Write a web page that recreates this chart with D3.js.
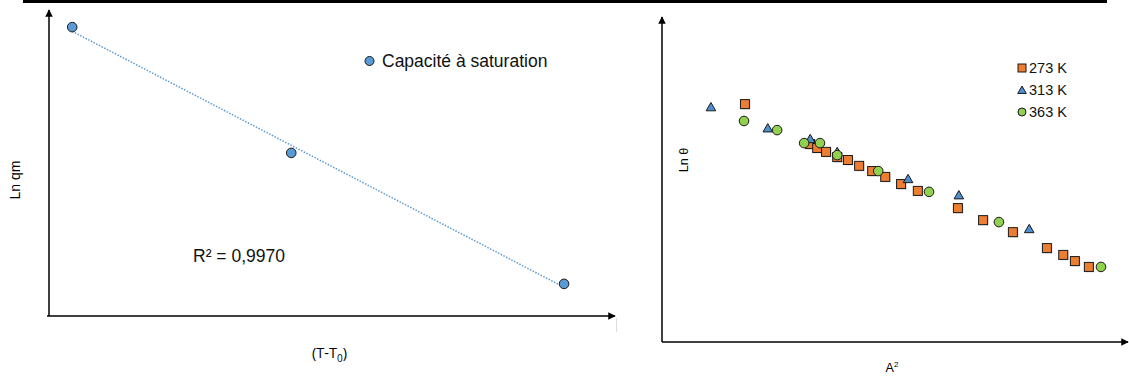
<!DOCTYPE html>
<html>
<head>
<meta charset="utf-8">
<script src="https://cdn.jsdelivr.net/npm/d3@7"></script>
<style>
	body { margin: 0; background: #fff; }
	svg { display: block; font-family: 'Liberation Sans', Arial, sans-serif; }
</style>
</head>
<body>
<div id="chart"></div>
<script>
// Left chart: Ln qm vs (T-T0), arbitrary units 0-100
const satX = [ 4.1, 42.8, 91.0 ];
const satY = [ 94.4, 53.3, 10.5 ];
const satLabel = 'Capacité à saturation';
const r2Label = 'R² = 0,9970';

// Right chart: Ln θ vs A², arbitrary units 0-100
const k273X = [ 17.8, 31.8, 33.3, 35.2, 37.6, 39.9, 42.3, 45.1, 47.9, 51.3, 54.9, 63.5, 68.9, 75.3, 82.6, 86.1, 88.6, 91.6 ];
const k273Y = [ 73.2, 60.9, 59.7, 58.5, 56.9, 56.0, 54.2, 52.6, 50.8, 48.6, 46.5, 41.2, 37.5, 33.8, 28.9, 26.8, 24.9, 23.1 ];
const k313X = [ 10.5, 22.7, 31.8, 37.6, 52.8, 63.7, 78.8 ];
const k313Y = [ 72.3, 65.8, 62.5, 58.5, 50.2, 45.2, 34.8 ];
const k363X = [ 17.6, 24.7, 30.5, 33.9, 37.6, 46.4, 57.3, 72.3, 94.2 ];
const k363Y = [ 68.0, 65.2, 61.2, 61.2, 57.5, 52.6, 46.2, 36.9, 23.1 ];
const seriesNames = [ '273 K', '313 K', '363 K' ];

const width = 1129;
const height = 377;

const svg = d3.select( '#chart' )
	.append( 'svg' )
	.attr( 'width', width )
	.attr( 'height', height );

const defs = svg.append( 'defs' );
defs.append( 'marker' )
	.attr( 'id', 'arrow' )
	.attr( 'viewBox', '0 0 10 10' )
	.attr( 'refX', 9 )
	.attr( 'refY', 5 )
	.attr( 'markerWidth', 5 )
	.attr( 'markerHeight', 5 )
	.attr( 'orient', 'auto' )
	.append( 'path' )
	.attr( 'd', 'M0,0 L10,5 L0,10 z' )
	.attr( 'fill', '#000' );

// heavy rule along the top edge
svg.append( 'line' )
	.attr( 'x1', 23 ).attr( 'x2', 1107 )
	.attr( 'y1', 1.5 ).attr( 'y2', 1.5 )
	.attr( 'stroke', '#000' )
	.attr( 'stroke-width', 3 );

/* ---------- left chart ---------- */
const xL = d3.scaleLinear().domain( [ 0, 100 ] ).range( [ 49, 615 ] );
const yL = d3.scaleLinear().domain( [ 0, 100 ] ).range( [ 316, 10 ] );

const left = svg.append( 'g' );

left.append( 'line' )
	.attr( 'x1', xL( 0 ) - 2 ).attr( 'x2', xL( 100 ) )
	.attr( 'y1', yL( 0 ) ).attr( 'y2', yL( 0 ) )
	.attr( 'stroke', '#000' ).attr( 'stroke-width', 1.5 )
	.attr( 'marker-end', 'url(#arrow)' );

left.append( 'line' )
	.attr( 'x1', xL( 0 ) ).attr( 'x2', xL( 0 ) )
	.attr( 'y1', yL( 0 ) ).attr( 'y2', yL( 100 ) )
	.attr( 'stroke', '#000' ).attr( 'stroke-width', 1.5 )
	.attr( 'marker-end', 'url(#arrow)' );

// least-squares trend line over the three points
const mx = d3.mean( satX );
const my = d3.mean( satY );
const slope = d3.sum( satX, ( x, i ) => ( x - mx ) * ( satY[ i ] - my ) ) /
	d3.sum( satX, ( x ) => ( x - mx ) * ( x - mx ) );
const fit = ( x ) => my + slope * ( x - mx );
const xExt = d3.extent( satX );

left.append( 'line' )
	.attr( 'x1', xL( xExt[ 0 ] ) ).attr( 'y1', yL( fit( xExt[ 0 ] ) ) )
	.attr( 'x2', xL( xExt[ 1 ] ) ).attr( 'y2', yL( fit( xExt[ 1 ] ) ) )
	.attr( 'stroke', '#5b9bd5' )
	.attr( 'stroke-width', 1.5 )
	.attr( 'stroke-dasharray', '1.5 1.5' );

left.selectAll( 'circle.pt' )
	.data( satX.map( ( x, i ) => ( { x, y: satY[ i ] } ) ) )
	.enter()
	.append( 'circle' )
	.attr( 'class', 'pt' )
	.attr( 'cx', ( d ) => xL( d.x ) )
	.attr( 'cy', ( d ) => yL( d.y ) )
	.attr( 'r', 4.8 )
	.attr( 'fill', '#5b9bd5' )
	.attr( 'stroke', '#1a1a1a' )
	.attr( 'stroke-width', 1 );

left.append( 'circle' )
	.attr( 'cx', 369.5 ).attr( 'cy', 61 )
	.attr( 'r', 4.5 )
	.attr( 'fill', '#5b9bd5' )
	.attr( 'stroke', '#1a1a1a' )
	.attr( 'stroke-width', 1 );

left.append( 'text' )
	.attr( 'x', 382 ).attr( 'y', 67 )
	.style( 'font-size', '17.5px' )
	.attr( 'fill', '#111' )
	.text( satLabel );

left.append( 'text' )
	.attr( 'x', 193 ).attr( 'y', 262 )
	.style( 'font-size', '17.5px' )
	.attr( 'fill', '#111' )
	.text( r2Label );

left.append( 'text' )
	.attr( 'transform', 'translate(20,180) rotate(-90)' )
	.attr( 'text-anchor', 'middle' )
	.style( 'font-size', '14px' )
	.text( 'Ln qm' );

const xLab = left.append( 'text' )
	.attr( 'x', 312 ).attr( 'y', 358 )
	.style( 'font-family', "'Open Sans', sans-serif" )
	.style( 'font-size', '14.5px' );
xLab.append( 'tspan' ).text( '(T-T' );
xLab.append( 'tspan' ).attr( 'dy', 4 ).style( 'font-size', '10px' ).text( '0' );
xLab.append( 'tspan' ).attr( 'dy', -4 ).text( ')' );

left.append( 'line' )
	.attr( 'x1', 616.5 ).attr( 'x2', 616.5 )
	.attr( 'y1', 318 ).attr( 'y2', 332 )
	.attr( 'stroke', '#ddd' );

/* ---------- right chart ---------- */
const xR = d3.scaleLinear().domain( [ 0, 100 ] ).range( [ 662, 1128 ] );
const yR = d3.scaleLinear().domain( [ 0, 100 ] ).range( [ 342, 17 ] );

const right = svg.append( 'g' );

right.append( 'line' )
	.attr( 'x1', xR( 0 ) ).attr( 'x2', xR( 100 ) )
	.attr( 'y1', yR( 0 ) ).attr( 'y2', yR( 0 ) )
	.attr( 'stroke', '#000' ).attr( 'stroke-width', 1.5 )
	.attr( 'marker-end', 'url(#arrow)' );

right.append( 'line' )
	.attr( 'x1', xR( 0 ) ).attr( 'x2', xR( 0 ) )
	.attr( 'y1', yR( 0 ) ).attr( 'y2', yR( 100 ) )
	.attr( 'stroke', '#000' ).attr( 'stroke-width', 1.5 )
	.attr( 'marker-end', 'url(#arrow)' );

const sq = 9;
const drawSquare = ( g, x, y ) => {
	g.append( 'rect' )
		.attr( 'x', x - sq / 2 + 1 ).attr( 'y', y - sq / 2 + 1 )
		.attr( 'width', sq ).attr( 'height', sq )
		.attr( 'fill', '#bbb' ).attr( 'opacity', 0.6 );
	g.append( 'rect' )
		.attr( 'x', x - sq / 2 ).attr( 'y', y - sq / 2 )
		.attr( 'width', sq ).attr( 'height', sq )
		.attr( 'fill', '#ed7d31' )
		.attr( 'stroke', '#1a1a1a' ).attr( 'stroke-width', 1 );
};
const triPath = d3.symbol().type( d3.symbolTriangle ).size( 40 );
const drawTri = ( g, x, y ) => {
	g.append( 'path' )
		.attr( 'd', triPath() )
		.attr( 'transform', `translate(${ x },${ y + 1 })` )
		.attr( 'fill', '#4f8fd0' )
		.attr( 'stroke', '#1a1a1a' ).attr( 'stroke-width', 1 );
};
const drawDot = ( g, x, y ) => {
	g.append( 'circle' )
		.attr( 'cx', x ).attr( 'cy', y )
		.attr( 'r', 4.8 )
		.attr( 'fill', '#92d050' )
		.attr( 'stroke', '#1a1a1a' ).attr( 'stroke-width', 1 );
};

const marks = right.append( 'g' );
k273X.forEach( ( x, i ) => drawSquare( marks, xR( x ), yR( k273Y[ i ] ) ) );
k313X.forEach( ( x, i ) => drawTri( marks, xR( x ), yR( k313Y[ i ] ) ) );
k363X.forEach( ( x, i ) => drawDot( marks, xR( x ), yR( k363Y[ i ] ) ) );

// legend
const legend = right.append( 'g' ).attr( 'transform', 'translate(1022,68)' );
const legendDraw = [
	( g ) => {
		g.append( 'rect' ).attr( 'x', -4 ).attr( 'y', -4 ).attr( 'width', 8 ).attr( 'height', 8 )
			.attr( 'fill', '#ed7d31' ).attr( 'stroke', '#1a1a1a' );
	},
	( g ) => {
		g.append( 'path' ).attr( 'd', d3.symbol().type( d3.symbolTriangle ).size( 32 )() )
			.attr( 'transform', 'translate(0,1)' )
			.attr( 'fill', '#4f8fd0' ).attr( 'stroke', '#1a1a1a' );
	},
	( g ) => {
		g.append( 'circle' ).attr( 'r', 4 )
			.attr( 'fill', '#92d050' ).attr( 'stroke', '#1a1a1a' );
	},
];
seriesNames.forEach( ( name, i ) => {
	const row = legend.append( 'g' ).attr( 'transform', `translate(0,${ i * 22 })` );
	legendDraw[ i ]( row );
	row.append( 'text' )
		.attr( 'x', 7 ).attr( 'y', 5 )
		.style( 'font-size', '14.5px' )
		.attr( 'fill', '#111' )
		.text( name );
} );

right.append( 'text' )
	.attr( 'transform', 'translate(688,160) rotate(-90)' )
	.attr( 'text-anchor', 'middle' )
	.style( 'font-size', '12.5px' )
	.text( 'Ln θ' );

const aLab = right.append( 'text' )
	.attr( 'x', 892 ).attr( 'y', 372 )
	.attr( 'text-anchor', 'middle' )
	.style( 'font-size', '12.5px' );
aLab.append( 'tspan' ).text( 'A' );
aLab.append( 'tspan' ).attr( 'dy', -5 ).style( 'font-size', '8px' ).text( '2' );
</script>
</body>
</html>
